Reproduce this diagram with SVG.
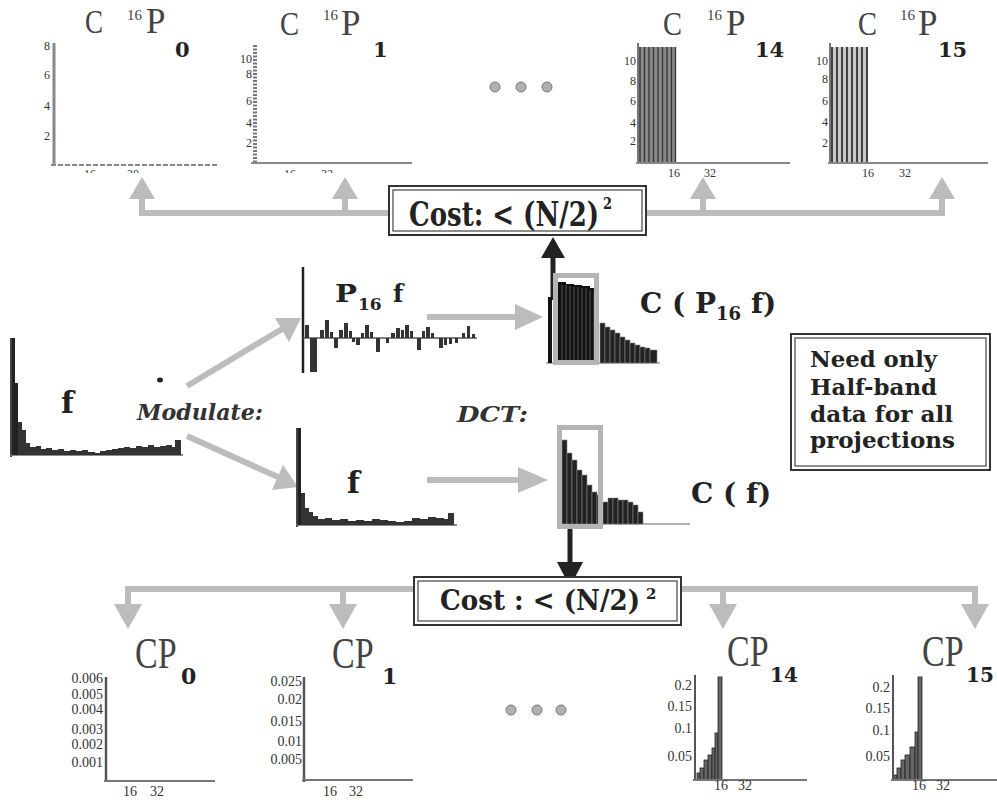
<svg xmlns="http://www.w3.org/2000/svg" width="997" height="803" viewBox="0 0 997 803">
<defs>
<style>
.gl{stroke:#bcbcbc;stroke-width:6;fill:none}
.gf{fill:#bcbcbc}
.tk{font-family:"Liberation Serif",serif;font-size:12px;fill:#333}
.tkb{font-family:"Liberation Serif",serif;font-size:14px;fill:#333}
.ttl{font-family:"Liberation Serif",serif;fill:#444}
.b{font-family:"DejaVu Serif","Liberation Serif",serif;font-weight:bold;fill:#222}
.bi{font-family:"DejaVu Serif","Liberation Serif",serif;font-weight:bold;font-style:italic;fill:#333}
.bar{fill:#222;stroke:#888;stroke-width:0.6}
.box{fill:#fff;stroke:#333;stroke-width:2}
.boxi{fill:none;stroke:#444;stroke-width:1.2}
.dot{fill:#b0b0b0;stroke:#777;stroke-width:1}
.gbox{fill:none;stroke:#b4b4b4;stroke-width:5}
</style>
<clipPath id="cutTop"><rect x="0" y="0" width="997" height="173"/></clipPath>
</defs>
<rect width="997" height="803" fill="#fff"/>

<!-- connectors -->
<g id="connectors">
  <path class="gl" d="M142,198 V213 H942 V198 M345,213 V198 M703,213 V198"/>
  <polygon class="gf" points="142,177 129,199 155,199"/>
  <polygon class="gf" points="345,177 332,199 358,199"/>
  <polygon class="gf" points="703,177 690,199 716,199"/>
  <polygon class="gf" points="942,177 929,199 955,199"/>
  <path class="gl" d="M128,605 V589 H975 V605 M343,589 V605 M723,589 V605"/>
  <polygon class="gf" points="128,629 114,604 142,604"/>
  <polygon class="gf" points="343,629 329,604 357,604"/>
  <polygon class="gf" points="723,629 709,604 737,604"/>
  <polygon class="gf" points="975,629 961,604 989,604"/>
  <!-- modulate arrows -->
  <line class="gl" x1="187" y1="386" x2="282" y2="329" stroke-width="7"/>
  <polygon class="gf" points="301,318 275,318 289,342"/>
  <line class="gl" x1="187" y1="436" x2="278" y2="477" stroke-width="7"/>
  <polygon class="gf" points="298,487 283,465 272,490"/>
  <!-- DCT arrows -->
  <line class="gl" x1="427" y1="317" x2="518" y2="317"/>
  <polygon class="gf" points="543,317 515,304 515,330"/>
  <line class="gl" x1="427" y1="480" x2="520" y2="480"/>
  <polygon class="gf" points="548,480 518,467 518,493"/>
  <!-- black arrows -->
  <line x1="553" y1="300" x2="553" y2="255" stroke="#222" stroke-width="5"/>
  <polygon points="553,237 541,258 565,258" fill="#222"/>
  <line x1="570" y1="528" x2="570" y2="565" stroke="#222" stroke-width="5"/>
  <polygon points="570,587 557,562 583,562" fill="#222"/>
</g>

<!-- Top plot C 16P0 -->
<g id="plot-CP0-top">
  <text class="ttl" x="85" y="33" font-size="34" textLength="18" lengthAdjust="spacingAndGlyphs">C</text>
  <text class="ttl" x="127" y="20" font-size="15">16</text>
  <text class="ttl" x="146" y="33" font-size="35">P</text>
  <text class="b" x="175" y="57" font-size="21">0</text>
  <line x1="54" y1="43" x2="54" y2="166" stroke="#888" stroke-width="3"/>
  <line x1="51" y1="165" x2="219" y2="165" stroke="#888" stroke-width="2" stroke-dasharray="5,2"/>
  <text class="tk" x="50" y="50" text-anchor="end">8</text>
  <text class="tk" x="50" y="79" text-anchor="end">6</text>
  <text class="tk" x="50" y="110" text-anchor="end">4</text>
  <text class="tk" x="50" y="140" text-anchor="end">2</text>
  <g clip-path="url(#cutTop)">
    <text class="tk" x="90" y="178" text-anchor="middle">16</text>
    <text class="tk" x="133" y="178" text-anchor="middle">30</text>
  </g>
</g>

<!-- Top plot C 16P1 -->
<g id="plot-CP1-top">
  <text class="ttl" x="280" y="35" font-size="34" textLength="19" lengthAdjust="spacingAndGlyphs">C</text>
  <text class="ttl" x="323" y="20" font-size="15">16</text>
  <text class="ttl" x="341" y="35" font-size="35">P</text>
  <text class="b" x="373" y="57" font-size="21">1</text>
  <line x1="255" y1="45" x2="255" y2="164" stroke="#777" stroke-width="4" stroke-dasharray="2,1.5"/>
  <line x1="251" y1="163" x2="412" y2="163" stroke="#888" stroke-width="2"/>
  <text class="tk" x="252" y="63" text-anchor="end" font-size="11">10</text>
  <text class="tk" x="252" y="78" text-anchor="end" font-size="11">8</text>
  <text class="tk" x="252" y="105" text-anchor="end">6</text>
  <text class="tk" x="252" y="127" text-anchor="end">4</text>
  <text class="tk" x="252" y="147" text-anchor="end">2</text>
  <g clip-path="url(#cutTop)">
    <text class="tk" x="290" y="178" text-anchor="middle">16</text>
    <text class="tk" x="327" y="178" text-anchor="middle">32</text>
  </g>
</g>

<!-- top dots -->
<g id="dots-top">
  <circle class="dot" cx="495" cy="87" r="5"/>
  <circle class="dot" cx="521" cy="87" r="5"/>
  <circle class="dot" cx="547" cy="87" r="5"/>
</g>

<!-- Top plot C 16P14 -->
<g id="plot-CP14-top">
  <text class="ttl" x="663" y="35" font-size="34" textLength="19" lengthAdjust="spacingAndGlyphs">C</text>
  <text class="ttl" x="707" y="20" font-size="15">16</text>
  <text class="ttl" x="726" y="35" font-size="35">P</text>
  <text class="b" x="755" y="57" font-size="21">14</text>
  <rect x="638" y="47" width="38" height="116" fill="#8a8a8a"/>
  <path d="M640,47V163M644.5,47V163M649,47V163M653.5,47V163M658,47V163M662.5,47V163M667,47V163M671.5,47V163M675.5,47V163" stroke="#333" stroke-width="1.3"/>
  <line x1="638" y1="43" x2="638" y2="164" stroke="#777" stroke-width="2"/>
  <line x1="636" y1="163" x2="790" y2="163" stroke="#888" stroke-width="2"/>
  <text class="tk" x="636" y="65" text-anchor="end">10</text>
  <text class="tk" x="636" y="85" text-anchor="end">8</text>
  <text class="tk" x="636" y="105" text-anchor="end">6</text>
  <text class="tk" x="636" y="127" text-anchor="end">4</text>
  <text class="tk" x="636" y="145" text-anchor="end">2</text>
  <text class="tk" x="674" y="177" text-anchor="middle">16</text>
  <text class="tk" x="710" y="177" text-anchor="middle">32</text>
</g>

<!-- Top plot C 16P15 -->
<g id="plot-CP15-top">
  <text class="ttl" x="858" y="35" font-size="34" textLength="19" lengthAdjust="spacingAndGlyphs">C</text>
  <text class="ttl" x="900" y="20" font-size="15">16</text>
  <text class="ttl" x="918" y="35" font-size="35">P</text>
  <text class="b" x="938" y="57" font-size="21">15</text>
  <rect x="830" y="47" width="38" height="116" fill="#c8c8c8"/>
  <path d="M832,47V163M837,47V163M842,47V163M847,47V163M852,47V163M857,47V163M862,47V163M867,47V163" stroke="#222" stroke-width="1.6"/>
  <line x1="830" y1="43" x2="830" y2="164" stroke="#777" stroke-width="2"/>
  <line x1="828" y1="163" x2="988" y2="163" stroke="#888" stroke-width="2"/>
  <text class="tk" x="828" y="65" text-anchor="end">10</text>
  <text class="tk" x="828" y="83" text-anchor="end">8</text>
  <text class="tk" x="828" y="105" text-anchor="end">6</text>
  <text class="tk" x="828" y="126" text-anchor="end">4</text>
  <text class="tk" x="828" y="147" text-anchor="end">2</text>
  <text class="tk" x="868" y="177" text-anchor="middle">16</text>
  <text class="tk" x="905" y="177" text-anchor="middle">32</text>
</g>

<!-- Top cost box -->
<g id="cost-top">
  <rect class="box" x="389" y="186" width="257" height="49"/>
  <rect class="boxi" x="393" y="190" width="249" height="41"/>
  <g transform="translate(409,226) scale(1,1.3)">
    <text class="b" x="0" y="0" font-size="26" textLength="190" lengthAdjust="spacingAndGlyphs">Cost: &lt; (N/2)</text>
    <text class="b" x="194" y="-13" font-size="13">2</text>
  </g>
</g>

<!-- f (left) -->
<g id="plot-f-left">
  <line x1="11" y1="338" x2="11" y2="457" stroke="#444" stroke-width="2"/>
  <line x1="10" y1="455" x2="183" y2="455" stroke="#666" stroke-width="1.5"/>
  <rect x="12" y="338" width="3" height="117" fill="#222"/>
  <rect x="15" y="383" width="3" height="72" fill="#222"/>
  <rect x="18" y="422" width="4" height="33" fill="#333"/>
  <rect x="22" y="430" width="4" height="25" fill="#333"/>
  <rect x="26" y="443" width="4" height="12" fill="#333"/>
  <path d="M30,455 V447 H36 V446 H41 V449 H46 V448 H52 V450 H58 V449 H64 V451 H70 V450 H76 V451 H82 V450 H88 V452 H95 V453 H100 V451 H106 V450 H112 V449 H118 V448 H124 V447 H130 V448 H136 V446 H142 V447 H148 V445 H154 V447 H160 V446 H166 V445 H172 V447 H175 V440 H181 V455 Z" fill="#333"/>
  <text class="b" x="61" y="413" font-size="30">f</text>
  <ellipse cx="160" cy="380" rx="3" ry="2.5" fill="#222"/>
</g>

<g id="label-modulate">
  <text class="bi" x="137" y="420" font-size="23" textLength="126" lengthAdjust="spacingAndGlyphs">Modulate:</text>
</g>

<!-- P16 f -->
<g id="plot-P16f">
  <line x1="303" y1="267" x2="303" y2="373" stroke="#222" stroke-width="2.5"/>
  <line x1="303" y1="338" x2="477" y2="338" stroke="#555" stroke-width="1.5"/>
  <g fill="#333">
    <rect x="305" y="325" width="4" height="13"/>
    <rect x="310" y="338" width="7" height="34"/>
    <rect x="320" y="330" width="4" height="8"/>
    <rect x="325" y="320" width="4" height="18"/>
    <rect x="330" y="332" width="3" height="6"/>
    <rect x="334" y="338" width="4" height="10"/>
    <rect x="339" y="330" width="4" height="8"/>
    <rect x="344" y="323" width="4" height="15"/>
    <rect x="349" y="331" width="3" height="7"/>
    <rect x="352" y="338" width="3" height="4"/>
    <rect x="356" y="338" width="4" height="7"/>
    <rect x="361" y="333" width="3" height="5"/>
    <rect x="365" y="325" width="4" height="13"/>
    <rect x="370" y="332" width="3" height="6"/>
    <rect x="376" y="338" width="4" height="14"/>
    <rect x="386" y="338" width="3" height="5"/>
    <rect x="391" y="333" width="4" height="5"/>
    <rect x="396" y="328" width="4" height="10"/>
    <rect x="401" y="330" width="3" height="8"/>
    <rect x="405" y="325" width="4" height="13"/>
    <rect x="410" y="331" width="3" height="7"/>
    <rect x="417" y="338" width="4" height="12"/>
    <rect x="422" y="331" width="3" height="7"/>
    <rect x="426" y="327" width="4" height="11"/>
    <rect x="431" y="333" width="3" height="5"/>
    <rect x="439" y="338" width="4" height="10"/>
    <rect x="444" y="338" width="3" height="7"/>
    <rect x="449" y="338" width="3" height="6"/>
    <rect x="455" y="338" width="3" height="5"/>
    <rect x="462" y="333" width="3" height="5"/>
    <rect x="467" y="326" width="3" height="12"/>
    <rect x="472" y="334" width="3" height="4"/>
  </g>
  <text class="b" x="335" y="302" font-size="24" textLength="22" lengthAdjust="spacingAndGlyphs">P</text>
  <text class="b" x="358" y="310" font-size="17">16</text>
  <text class="b" x="393" y="302" font-size="24">f</text>
</g>

<g id="label-dct">
  <text class="bi" x="457" y="422" font-size="22" textLength="71" lengthAdjust="spacingAndGlyphs">DCT:</text>
</g>

<!-- f lower -->
<g id="plot-f-lower">
  <line x1="297" y1="428" x2="297" y2="527" stroke="#444" stroke-width="2"/>
  <line x1="296" y1="525" x2="457" y2="525" stroke="#666" stroke-width="1.5"/>
  <rect x="298" y="428" width="3" height="97" fill="#222"/>
  <rect x="301" y="493" width="4" height="32" fill="#333"/>
  <rect x="305" y="508" width="4" height="17" fill="#333"/>
  <rect x="309" y="512" width="4" height="13" fill="#333"/>
  <rect x="313" y="516" width="5" height="9" fill="#333"/>
  <path d="M318,525 V519 H325 V518 H332 V520 H340 V519 H348 V521 H356 V520 H364 V521 H372 V519 H380 V520 H388 V521 H396 V522 H404 V521 H412 V518 H420 V519 H428 V517 H436 V518 H444 V519 H448 V513 H454 V525 Z" fill="#333"/>
  <text class="b" x="347" y="493" font-size="30">f</text>
</g>

<!-- C(P16 f) -->
<g id="plot-CP16f">
  <line x1="546" y1="363" x2="660" y2="363" stroke="#666" stroke-width="1"/>
  <rect x="548" y="297" width="4" height="66" fill="#111"/>
  <rect x="553" y="300" width="4" height="63" fill="#111"/>
  <path d="M558,363 V282 H566 V284 H574 V285 H582 V286 H590 V288 H594 V292 H597 V363 Z" fill="#111"/>
  <path d="M562,285V362M566,285V362M570,286V362M574,287V362M578,287V362M582,288V362M586,288V362M590,290V362M594,293V362" stroke="#777" stroke-width="0.7"/>
  <rect class="bar" x="600" y="323" width="5" height="40"/>
  <rect class="bar" x="605" y="327" width="5" height="36"/>
  <rect class="bar" x="610" y="330" width="5" height="33"/>
  <rect class="bar" x="615" y="333" width="5" height="30"/>
  <rect class="bar" x="620" y="337" width="5" height="26"/>
  <rect class="bar" x="625" y="340" width="5" height="23"/>
  <rect class="bar" x="630" y="343" width="5" height="20"/>
  <rect class="bar" x="635" y="345" width="5" height="18"/>
  <rect class="bar" x="640" y="347" width="5" height="16"/>
  <rect class="bar" x="645" y="348" width="5" height="15"/>
  <rect class="bar" x="650" y="350" width="7" height="13"/>
  <rect class="gbox" x="555.5" y="275.5" width="41" height="87"/>
  <text class="b" x="640" y="313" font-size="28">C ( P<tspan font-size="18" dy="7">16</tspan><tspan dy="-7"> f)</tspan></text>
</g>

<!-- C(f) -->
<g id="plot-Cf">
  <line x1="558" y1="524" x2="690" y2="524" stroke="#666" stroke-width="1"/>
  <rect class="bar" x="562" y="440" width="5" height="84"/>
  <rect class="bar" x="567" y="453" width="5" height="71"/>
  <rect class="bar" x="572" y="460" width="5" height="64"/>
  <rect class="bar" x="577" y="470" width="5" height="54"/>
  <rect class="bar" x="582" y="475" width="5" height="49"/>
  <rect class="bar" x="587" y="485" width="5" height="39"/>
  <rect class="bar" x="592" y="492" width="5" height="32"/>
  <rect class="bar" x="597" y="495" width="5" height="29"/>
  <rect class="bar" x="603" y="502" width="5" height="22"/>
  <rect class="bar" x="608" y="498" width="5" height="26"/>
  <rect class="bar" x="613" y="498" width="5" height="26"/>
  <rect class="bar" x="618" y="500" width="5" height="24"/>
  <rect class="bar" x="623" y="500" width="5" height="24"/>
  <rect class="bar" x="628" y="502" width="5" height="22"/>
  <rect class="bar" x="633" y="505" width="5" height="19"/>
  <rect class="bar" x="638" y="512" width="5" height="12"/>
  <rect class="gbox" x="559.5" y="427.5" width="41" height="99"/>
  <text class="b" x="691" y="503" font-size="28">C ( f)</text>
</g>

<!-- Need only box -->
<g id="note-box">
  <rect class="box" x="791" y="334" width="199" height="136"/>
  <rect class="boxi" x="795" y="338" width="191" height="128"/>
  <text class="b" x="810" y="367" font-size="22" textLength="127" lengthAdjust="spacingAndGlyphs">Need only</text>
  <text class="b" x="810" y="395" font-size="22" textLength="127" lengthAdjust="spacingAndGlyphs">Half-band</text>
  <text class="b" x="810" y="422" font-size="22" textLength="143" lengthAdjust="spacingAndGlyphs">data for all</text>
  <text class="b" x="810" y="448" font-size="22" textLength="145" lengthAdjust="spacingAndGlyphs">projections</text>
</g>

<!-- Bottom cost box -->
<g id="cost-bottom">
  <rect class="box" x="414" y="577" width="267" height="48"/>
  <rect class="boxi" x="418" y="581" width="259" height="40"/>
  <text class="b" x="440" y="610" font-size="27" textLength="200" lengthAdjust="spacingAndGlyphs">Cost : &lt; (N/2)</text>
  <text class="b" x="646" y="599" font-size="15">2</text>
</g>

<!-- Bottom CP0 -->
<g id="plot-CP0-bottom">
  <text class="ttl" font-size="34" transform="translate(135,668) scale(1,1.32)">CP</text>
  <text class="b" x="181" y="684" font-size="22">0</text>
  <line x1="106" y1="677" x2="106" y2="782" stroke="#555" stroke-width="2.5"/>
  <line x1="104" y1="781" x2="215" y2="781" stroke="#777" stroke-width="2"/>
  <text class="tkb" x="103" y="683" text-anchor="end">0.006</text>
  <text class="tkb" x="103" y="699" text-anchor="end">0.005</text>
  <text class="tkb" x="103" y="714" text-anchor="end">0.004</text>
  <text class="tkb" x="103" y="734" text-anchor="end">0.003</text>
  <text class="tkb" x="103" y="749" text-anchor="end">0.002</text>
  <text class="tkb" x="103" y="767" text-anchor="end">0.001</text>
  <text class="tkb" x="130" y="796" text-anchor="middle">16</text>
  <text class="tkb" x="157" y="796" text-anchor="middle">32</text>
</g>

<!-- Bottom CP1 -->
<g id="plot-CP1-bottom">
  <text class="ttl" font-size="34" transform="translate(332,668) scale(1,1.32)">CP</text>
  <text class="b" x="382" y="684" font-size="22">1</text>
  <line x1="304" y1="677" x2="304" y2="782" stroke="#555" stroke-width="2.5"/>
  <line x1="302" y1="780" x2="413" y2="780" stroke="#777" stroke-width="2"/>
  <text class="tkb" x="302" y="686" text-anchor="end">0.025</text>
  <text class="tkb" x="302" y="704" text-anchor="end">0.02</text>
  <text class="tkb" x="302" y="726" text-anchor="end">0.015</text>
  <text class="tkb" x="302" y="746" text-anchor="end">0.01</text>
  <text class="tkb" x="302" y="764" text-anchor="end">0.005</text>
  <text class="tkb" x="330" y="796" text-anchor="middle">16</text>
  <text class="tkb" x="356" y="796" text-anchor="middle">32</text>
</g>

<!-- bottom dots -->
<g id="dots-bottom">
  <circle class="dot" cx="511" cy="710" r="5"/>
  <circle class="dot" cx="537" cy="710" r="5"/>
  <circle class="dot" cx="561" cy="710" r="5"/>
</g>

<!-- Bottom CP14 -->
<g id="plot-CP14-bottom">
  <text class="ttl" font-size="34" transform="translate(727,666) scale(1,1.32)">CP</text>
  <text class="b" x="770" y="682" font-size="20">14</text>
  <g fill="#666" stroke="#222" stroke-width="0.8">
    <rect x="697" y="773" width="3" height="7"/>
    <rect x="700" y="768" width="4" height="12"/>
    <rect x="704" y="760" width="4" height="20"/>
    <rect x="708" y="755" width="4" height="25"/>
    <rect x="712" y="748" width="3" height="32"/>
    <rect x="715" y="733" width="3" height="47"/>
    <rect x="718" y="677" width="4" height="103"/>
  </g>
  <line x1="695" y1="675" x2="695" y2="781" stroke="#555" stroke-width="2"/>
  <line x1="693" y1="780" x2="807" y2="780" stroke="#777" stroke-width="2"/>
  <text class="tkb" x="692" y="690" text-anchor="end">0.2</text>
  <text class="tkb" x="692" y="711" text-anchor="end">0.15</text>
  <text class="tkb" x="692" y="733" text-anchor="end">0.1</text>
  <text class="tkb" x="692" y="761" text-anchor="end">0.05</text>
  <text class="tkb" x="721" y="790" text-anchor="middle">16</text>
  <text class="tkb" x="745" y="790" text-anchor="middle">32</text>
</g>

<!-- Bottom CP15 -->
<g id="plot-CP15-bottom">
  <text class="ttl" font-size="34" transform="translate(922,666) scale(1,1.32)">CP</text>
  <text class="b" x="966" y="682" font-size="20">15</text>
  <g fill="#666" stroke="#222" stroke-width="0.8">
    <rect x="894" y="775" width="3" height="5"/>
    <rect x="897" y="768" width="4" height="12"/>
    <rect x="901" y="760" width="4" height="20"/>
    <rect x="905" y="755" width="5" height="25"/>
    <rect x="910" y="747" width="5" height="33"/>
    <rect x="915" y="732" width="3" height="48"/>
    <rect x="918" y="677" width="4" height="103"/>
  </g>
  <line x1="893" y1="675" x2="893" y2="781" stroke="#555" stroke-width="2"/>
  <line x1="891" y1="780" x2="997" y2="780" stroke="#777" stroke-width="2"/>
  <text class="tkb" x="890" y="692" text-anchor="end">0.2</text>
  <text class="tkb" x="890" y="713" text-anchor="end">0.15</text>
  <text class="tkb" x="890" y="735" text-anchor="end">0.1</text>
  <text class="tkb" x="890" y="761" text-anchor="end">0.05</text>
  <text class="tkb" x="919" y="790" text-anchor="middle">16</text>
  <text class="tkb" x="943" y="790" text-anchor="middle">32</text>
</g>
</svg>
